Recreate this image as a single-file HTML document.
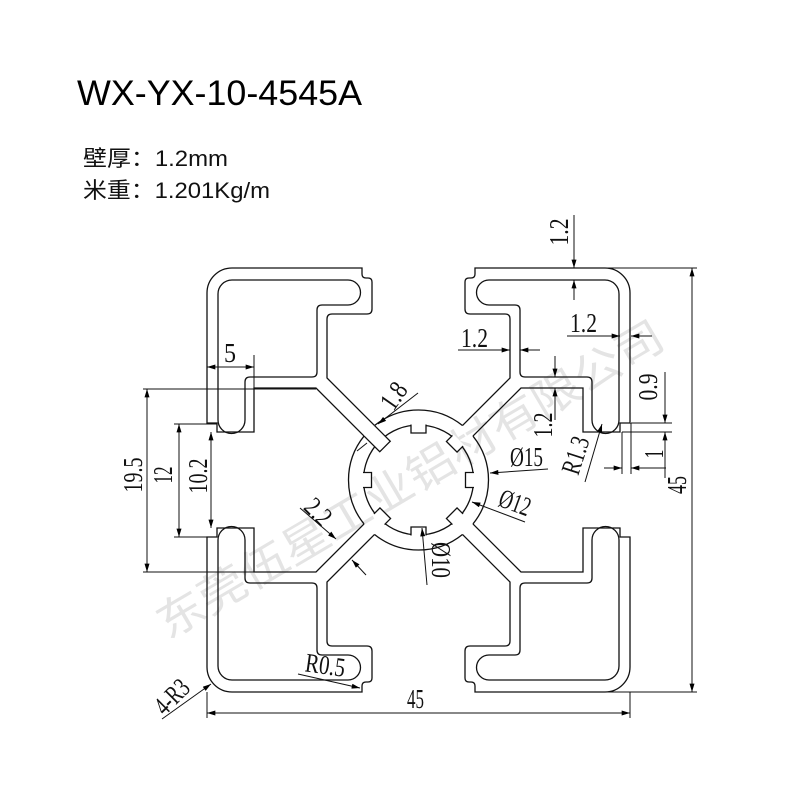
<!DOCTYPE html>
<html><head><meta charset="utf-8"><style>
html,body{margin:0;padding:0;background:#fff;}
svg{display:block;}
.d{font-family:"Liberation Serif",serif;font-size:27px;fill:#111;}
</style></head><body>
<svg width="800" height="800" viewBox="0 0 800 800" xmlns="http://www.w3.org/2000/svg">
<defs>
<marker id="a" viewBox="0 0 10 6" refX="10" refY="3" markerWidth="9" markerHeight="5" markerUnits="userSpaceOnUse" orient="auto-start-reverse"><path d="M0,0 L10,3 L0,6 z" fill="#000"/></marker>
<g id="q">
<path d="M364.05,436.05 L316,388 L254,388 L254,432 L217,432 L217,423 L207,423 L207,293 A25 25 0 0 1 232,268 L362,268 L362,274 Q362,278 366,278 L368,278 Q372,278 372,282 L372,309 Q372,314 367,314 L332,314 Q327,314 327,319 L327,378 L374.55,425.55"/>
<path d="M374.55,425.55 A70 70 0 0 1 418.5,410 M364.05,436.05 A70 70 0 0 0 348.5,480"/>
<path d="M218,420 L218,294 A14 14 0 0 1 232,280 L348,280 A12.5 12.5 0 0 1 348,305 L322,305 Q317,305 317,310 L317,372 Q317,377 312,377 L250,377 Q245,377 245,382 L245,420 A13.5 13.5 0 0 1 218,420 Z"/>
</g>
<g id="t"><rect x="-7.5" y="-57" width="15" height="3" fill="#fff" stroke="none"/><path d="M-7.5,-55.5 L-7.5,-47 L7.5,-47 L7.5,-55.5" fill="#fff"/></g>
</defs>
<rect width="800" height="800" fill="#fff"/>
<text x="0" y="0" transform="translate(168,640) rotate(-30.5)" font-family="'Noto Sans CJK SC',sans-serif" font-size="44" fill="#e4e4e4" textLength="580" lengthAdjust="spacingAndGlyphs">东莞伍星工业铝材有限公司</text>

<text x="77" y="105" font-family="'Liberation Sans',sans-serif" font-size="35" fill="#000" textLength="285" lengthAdjust="spacingAndGlyphs">WX-YX-10-4545A</text>
<text x="83" y="166" font-family="'Liberation Sans','Noto Sans CJK SC',sans-serif" font-size="22" fill="#111" textLength="145" lengthAdjust="spacingAndGlyphs">壁厚：1.2mm</text>
<text x="83" y="198" font-family="'Liberation Sans','Noto Sans CJK SC',sans-serif" font-size="22" fill="#111" textLength="187" lengthAdjust="spacingAndGlyphs">米重：1.201Kg/m</text>

<g fill="none" stroke="#111" stroke-width="1.3">
<use href="#q"/>
<use href="#q" transform="matrix(-1,0,0,1,837,0)"/>
<use href="#q" transform="matrix(1,0,0,-1,0,960)"/>
<use href="#q" transform="matrix(-1,0,0,-1,837,960)"/>
<circle cx="418.5" cy="480" r="55"/>
<g transform="translate(418.5,480)">
<use href="#t"/><use href="#t" transform="rotate(45)"/><use href="#t" transform="rotate(90)"/><use href="#t" transform="rotate(135)"/><use href="#t" transform="rotate(180)"/><use href="#t" transform="rotate(225)"/><use href="#t" transform="rotate(270)"/>
</g>
<path d="M374.55,425.55 L390.25,441.25 L379.75,451.75 L364.05,436.05 Z" fill="#fff" stroke="none"/>
<path d="M374.55,425.55 L390.25,441.25 L379.75,451.75 L364.05,436.05"/>
</g>

<g fill="none" stroke="#111" stroke-width="1">
<path d="M143,389 H316 M143,572 H316 M174,424 H217 M174,537 H217 M207,355 V388 M254,355 V388"/>
<path d="M147,389 V572" marker-start="url(#a)" marker-end="url(#a)"/>
<path d="M179,424 V537" marker-start="url(#a)" marker-end="url(#a)"/>
<path d="M211,432 V528" marker-start="url(#a)" marker-end="url(#a)"/>
<path d="M207,367 H254" marker-start="url(#a)" marker-end="url(#a)"/>
<path d="M574,215 V268" marker-end="url(#a)"/>
<path d="M574,300 V280" marker-end="url(#a)"/>
<path d="M600,268 H697 M605,692 H697"/>
<path d="M692,268 V692" marker-start="url(#a)" marker-end="url(#a)"/>
<path d="M567,336 H620" marker-end="url(#a)"/>
<path d="M652,336 H631" marker-end="url(#a)"/>
<path d="M631,423 H672 M622,432 H672 M622,432 V474 M631,423 V474"/>
<path d="M665,372 V423" marker-end="url(#a)"/>
<path d="M665,478 V432" marker-end="url(#a)"/>
<path d="M604,468 H622" marker-end="url(#a)"/>
<path d="M666,468 H631" marker-end="url(#a)"/>
<path d="M458,350 H510" marker-end="url(#a)"/>
<path d="M540,350 H520" marker-end="url(#a)"/>
<path d="M555,356 V377" marker-end="url(#a)"/>
<path d="M555,420 V388" marker-end="url(#a)"/>
<path d="M207,692 V718 M630,692 V718"/>
<path d="M207,713 H630" marker-start="url(#a)" marker-end="url(#a)"/>
<path d="M418,393 L378,424" marker-end="url(#a)"/>
<path d="M357,451 L367,443"/>
<path d="M300,508 L336,539" marker-end="url(#a)"/>
<path d="M366,575 L352,560" marker-end="url(#a)"/>
<path d="M548,469 L490,473" marker-end="url(#a)"/>
<path d="M525,522 L472,502" marker-end="url(#a)"/>
<path d="M427,585 L422,528" marker-end="url(#a)"/>
<path d="M585,482 L602,424" marker-end="url(#a)"/>
<path d="M298,674 L360,688" marker-end="url(#a)"/>
<path d="M162,719 L211,684" marker-end="url(#a)"/>
</g>

<g class="d">
<text x="224" y="362" textLength="12" lengthAdjust="spacingAndGlyphs">5</text>
<text transform="translate(142,475) rotate(-90)" text-anchor="middle" textLength="35" lengthAdjust="spacingAndGlyphs">19.5</text>
<text transform="translate(172,475) rotate(-90)" text-anchor="middle" textLength="17" lengthAdjust="spacingAndGlyphs">12</text>
<text transform="translate(207,476) rotate(-90)" text-anchor="middle" textLength="35" lengthAdjust="spacingAndGlyphs">10.2</text>
<text transform="translate(568,232) rotate(-90)" text-anchor="middle" textLength="27" lengthAdjust="spacingAndGlyphs">1.2</text>
<text x="570" y="332" textLength="27" lengthAdjust="spacingAndGlyphs">1.2</text>
<text x="461" y="347" textLength="27" lengthAdjust="spacingAndGlyphs">1.2</text>
<text transform="translate(552,425) rotate(-90)" text-anchor="middle" textLength="25" lengthAdjust="spacingAndGlyphs">1.2</text>
<text transform="translate(657,387) rotate(-90)" text-anchor="middle" textLength="27" lengthAdjust="spacingAndGlyphs">0.9</text>
<text transform="translate(663,454) rotate(-90)" text-anchor="middle" textLength="9" lengthAdjust="spacingAndGlyphs">1</text>
<text transform="translate(686,485) rotate(-90)" text-anchor="middle" textLength="18" lengthAdjust="spacingAndGlyphs">45</text>
<text x="407" y="708" textLength="17" lengthAdjust="spacingAndGlyphs">45</text>
<text transform="translate(584,458) rotate(-72)" text-anchor="middle" textLength="38" lengthAdjust="spacingAndGlyphs">R1.3</text>
<text x="510" y="466" textLength="33" lengthAdjust="spacingAndGlyphs">Ø15</text>
<text transform="translate(512,511) rotate(20)" text-anchor="middle" textLength="32" lengthAdjust="spacingAndGlyphs">Ø12</text>
<text transform="translate(432,560) rotate(90)" text-anchor="middle" textLength="36" lengthAdjust="spacingAndGlyphs">Ø10</text>
<text transform="translate(401,401) rotate(-55)" text-anchor="middle" textLength="27" lengthAdjust="spacingAndGlyphs">1.8</text>
<text transform="translate(312,518) rotate(45)" text-anchor="middle" textLength="27" lengthAdjust="spacingAndGlyphs">2.2</text>
<text transform="translate(324,674) rotate(8)" text-anchor="middle" textLength="40" lengthAdjust="spacingAndGlyphs">R0.5</text>
<text transform="translate(178,703) rotate(-45)" text-anchor="middle" textLength="38" lengthAdjust="spacingAndGlyphs">4-R3</text>
</g>
</svg>
</body></html>
